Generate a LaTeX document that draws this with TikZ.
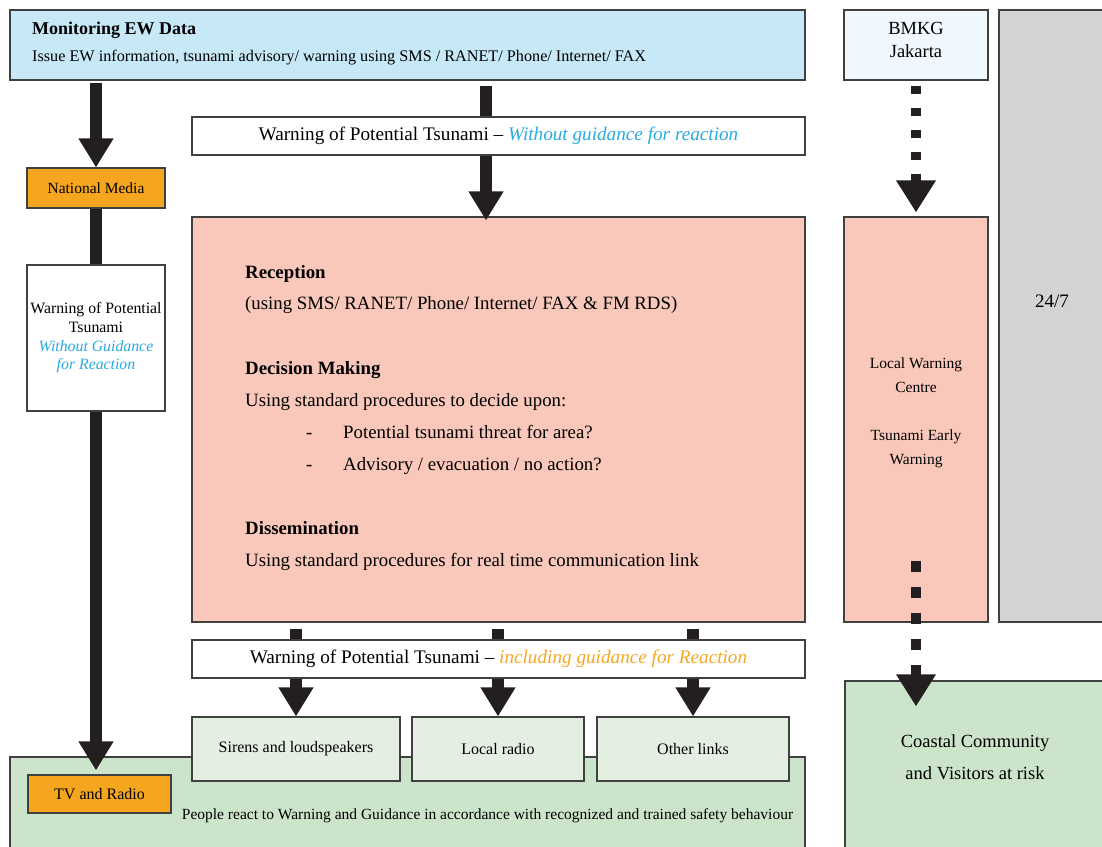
\documentclass[tikz,border=0pt]{standalone}
\usepackage{fontspec}
\setmainfont{Liberation Serif}
\usetikzlibrary{arrows.meta}

\definecolor{monblue}{HTML}{C6E8F7}
\definecolor{bmkgblue}{HTML}{EEF8FD}
\definecolor{greybox}{HTML}{D1D3D4}
\definecolor{salmon}{HTML}{F9C8BA}
\definecolor{mediaorange}{HTML}{F6A51E}
\definecolor{darkgreen}{HTML}{CCE5CA}
\definecolor{palegreen}{HTML}{E3EFE1}
\definecolor{cyantxt}{HTML}{29ABE2}
\definecolor{orangetxt}{HTML}{F7A823}
\definecolor{arrowblk}{HTML}{231F20}
\definecolor{edge}{HTML}{404040}

\begin{document}
\begin{tikzpicture}[x=1pt,y=-1pt,
    box/.style={draw=edge, line width=1.1pt, inner sep=0pt},
    smalltxt/.style={font=\fontsize{15.5}{18.7}\selectfont, align=center},
    bodytxt/.style={font=\fontsize{18.8}{22}\selectfont, anchor=base west, inner sep=0pt},
    shaft/.style={draw=arrowblk, line width=11.5pt},
    bigarrow/.style={shaft, -{Triangle[width=33pt,length=29pt]}},
    dotarrow/.style={draw=arrowblk, line width=10.5pt, dash pattern=on 10.5pt off 15.5pt,
      -{Triangle[width=37.5pt,length=32pt]}}]
  \useasboundingbox (0,0) rectangle (1102,846);

  % top row
  \node[box, fill=monblue, minimum width=795pt, minimum height=70pt] (monitor) at (407.5,45) {};
  \node[bodytxt, font=\fontsize{18}{22}\selectfont\bfseries] (montitle) at (32,34) {Monitoring EW Data};
  \node[bodytxt, font=\fontsize{16.2}{20}\selectfont] (monsub) at (32,61)
    {Issue EW information, tsunami advisory/ warning using SMS / RANET/ Phone/ Internet/ FAX};
  \node[box, fill=bmkgblue, minimum width=144pt, minimum height=70pt] (bmkg) at (916,45) {};
  \node[font=\fontsize{18.5}{23}\selectfont, align=center] (bmkgtxt) at (916,40) {BMKG\\Jakarta};
  \node[box, fill=greybox, minimum width=111pt, minimum height=612pt] (fulltime) at (1054.5,316) {};
  \node[font=\fontsize{19}{22}\selectfont] (fulltimetxt) at (1052,301) {24/7};

  % warnings without guidance
  \node[box, fill=white, minimum width=613pt, minimum height=38pt, font=\fontsize{19.2}{22}\selectfont] (topwarn) at (498.5,136)
    {Warning of Potential Tsunami -- \textit{\color{cyantxt}Without guidance for reaction}};
  \node[box, fill=mediaorange, minimum width=138pt, minimum height=40pt, smalltxt] (natmedia) at (96,188) {National Media};
  \node[box, fill=white, minimum width=138pt, minimum height=146pt, smalltxt, font=\fontsize{15.8}{18.7}\selectfont] (leftwarn) at (96,338)
    {Warning of Potential\\Tsunami\\\textit{\color{cyantxt}Without Guidance}\\\textit{\color{cyantxt}for Reaction}};

  % local decision centre
  \node[box, fill=salmon, minimum width=613pt, minimum height=405pt] (recep) at (498.5,419.5) {};
  \foreach \y/\t in {278/{\textbf{Reception}},
                     309/{(using SMS/ RANET/ Phone/ Internet/ FAX \& FM RDS)},
                     374/{\textbf{Decision Making}},
                     406/{Using standard procedures to decide upon:},
                     438/{\hspace*{61pt}\makebox[37pt][l]{-}Potential tsunami threat for area?},
                     470/{\hspace*{61pt}\makebox[37pt][l]{-}Advisory / evacuation / no action?},
                     534/{\textbf{Dissemination}},
                     566/{Using standard procedures for real time communication link}}
    \node[bodytxt] (line\y) at (245,\y) {\t};

  \node[box, fill=salmon, minimum width=144pt, minimum height=405pt] (localwarn) at (916,419.5) {};
  \node[font=\fontsize{15.5}{24}\selectfont, align=center] (lwtext) at (916,413)
    {Local Warning\\Centre\\[24pt]Tsunami Early\\Warning};

  % warnings with guidance
  \node[box, fill=white, minimum width=613pt, minimum height=38pt, font=\fontsize{19.2}{22}\selectfont] (botwarn) at (498.5,659)
    {Warning of Potential Tsunami -- \textit{\color{orangetxt}including guidance for Reaction}};

  % people at risk
  \node[box, fill=darkgreen, minimum width=795pt, minimum height=103pt] (people) at (407.5,808.5) {};
  \node[font=\fontsize{15.5}{18}\selectfont] (peopletxt) at (487.5,816)
    {People react to Warning and Guidance in accordance with recognized and trained safety behaviour};
  \node[box, fill=palegreen, minimum width=208pt, minimum height=64pt, smalltxt, font=\fontsize{16}{19}\selectfont] (sirens) at (296,749) {Sirens and loudspeakers};
  \node[box, fill=palegreen, minimum width=172pt, minimum height=64pt, smalltxt, font=\fontsize{16}{19}\selectfont] (lradio) at (498,749) {Local radio};
  \node[box, fill=palegreen, minimum width=192pt, minimum height=64pt, smalltxt, font=\fontsize{16}{19}\selectfont] (olinks) at (693,749) {Other links};
  \node[box, fill=mediaorange, minimum width=143pt, minimum height=38pt, smalltxt, font=\fontsize{16}{19}\selectfont] (tvradio) at (99.5,794) {TV and Radio};
  \node[box, fill=darkgreen, minimum width=265pt, minimum height=179pt] (coastal) at (977.5,770.5) {};
  \node[font=\fontsize{18.5}{32}\selectfont, align=center] (coastaltxt) at (975,757)
    {Coastal Community\\and Visitors at risk};

  % arrows
  \draw[bigarrow, shorten <=2pt] (monitor.south -| natmedia) -- (natmedia.north);
  \draw[shaft] (natmedia.south) -- (leftwarn.north);
  \draw[bigarrow, shorten >=4pt] (leftwarn.south) -- (leftwarn.south |- tvradio.north);

  \coordinate (ctop) at (486,86);
  \draw[shaft] (ctop) -- (ctop |- topwarn.north);
  \draw[bigarrow, shorten >=-4pt] (ctop |- topwarn.south) -- (ctop |- recep.north);

  \foreach \n in {sirens,lradio,olinks} {
    \draw[shaft, shorten <=6pt] (recep.south -| \n) -- (botwarn.north -| \n);
    \draw[bigarrow] (botwarn.south -| \n) -- (\n.north);
  }

  \draw[dotarrow, dash pattern=on 8.5pt off 13.5pt, shorten <=5pt, shorten >=4pt] (bmkg.south) -- (localwarn.north);
  \coordinate (lwdot) at (916,561);
  \draw[dotarrow, shorten >=-26pt] (lwdot) -- (lwdot |- coastal.north);
\end{tikzpicture}
\end{document}
